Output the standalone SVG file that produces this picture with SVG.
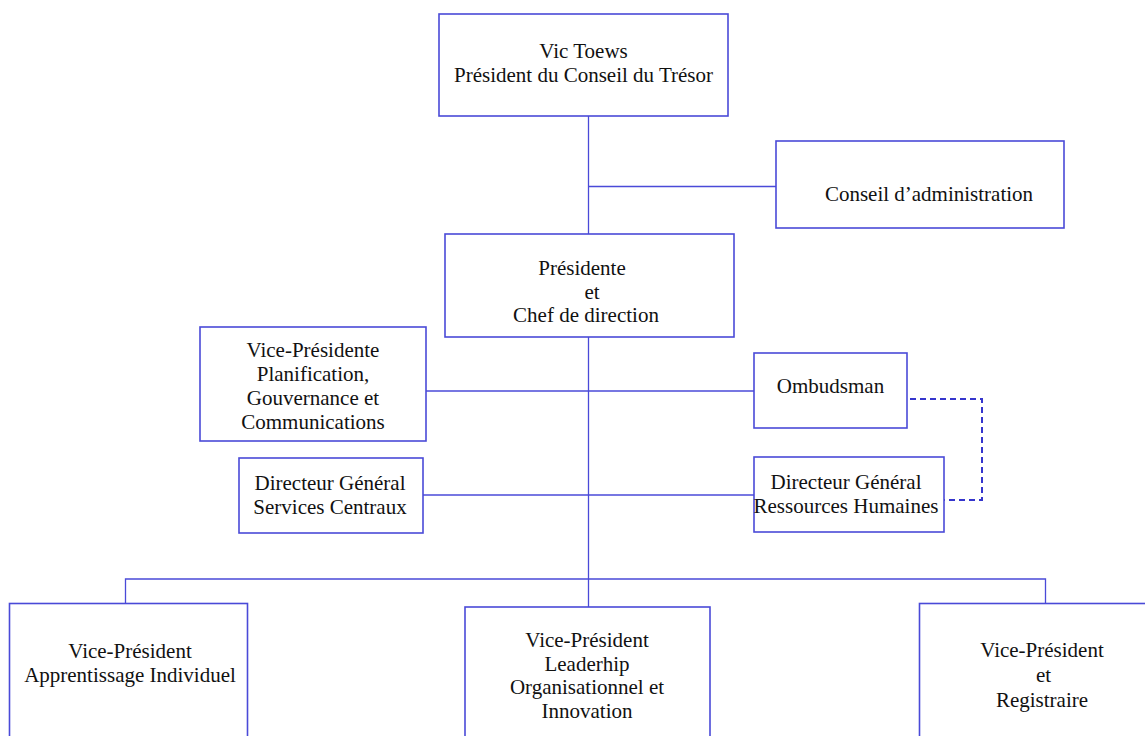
<svg xmlns="http://www.w3.org/2000/svg" width="1145" height="736" viewBox="0 0 1145 736">
<style>
.box{fill:#ffffff;stroke:#4a4ad8;stroke-width:1.6}
.ln{fill:none;stroke:#4a4ad8;stroke-width:1.3}
.dash{fill:none;stroke:#3535cc;stroke-width:2;stroke-dasharray:6 4}
text{font-family:"Liberation Serif","Times New Roman",serif;font-size:21px;fill:#111111;text-anchor:middle}
</style>
<rect width="1145" height="736" fill="#ffffff"/>
<g id="connectors">
<line class="ln" x1="588.5" y1="116" x2="588.5" y2="234"/>
<line class="ln" x1="588.5" y1="186.5" x2="776" y2="186.5"/>
<line class="ln" x1="588.5" y1="337" x2="588.5" y2="607"/>
<line class="ln" x1="426" y1="391" x2="754" y2="391"/>
<line class="ln" x1="423" y1="495" x2="754" y2="495"/>
<polyline class="ln" points="125.5,603 125.5,579 1045.5,579 1045.5,603"/>
<polyline class="dash" points="910,399 982,399 982,500 944,500"/>
</g>
<g id="n-toews">
<rect class="box" x="439" y="14" width="289" height="102"/>
<text x="583.5" y="58">Vic Toews</text>
<text x="583.5" y="82">Président du Conseil du Trésor</text>
</g>
<g id="n-conseil">
<rect class="box" x="776" y="141" width="288" height="87"/>
<text x="929" y="201">Conseil d’administration</text>
</g>
<g id="n-presidente">
<rect class="box" x="445" y="234" width="289" height="103"/>
<text x="582" y="275">Présidente</text>
<text x="592" y="298.5">et</text>
<text x="586" y="322">Chef de direction</text>
</g>
<g id="n-vp-planif">
<rect class="box" x="200" y="327" width="226" height="114"/>
<text x="313" y="357">Vice-Présidente</text>
<text x="313" y="381">Planification,</text>
<text x="313" y="405">Gouvernance et</text>
<text x="313" y="429">Communications</text>
</g>
<g id="n-ombudsman">
<rect class="box" x="754" y="353" width="153" height="75"/>
<text x="830.5" y="393">Ombudsman</text>
</g>
<g id="n-dg-sc">
<rect class="box" x="239" y="458" width="184" height="75"/>
<text x="330" y="490">Directeur Général</text>
<text x="330" y="514">Services Centraux</text>
</g>
<g id="n-dg-rh">
<rect class="box" x="754" y="457" width="190" height="75"/>
<text x="846" y="489">Directeur Général</text>
<text x="846" y="513">Ressources Humaines</text>
</g>
<g id="n-vp-appr">
<rect class="box" x="9.5" y="603.5" width="238" height="150"/>
<text x="130" y="658">Vice-Président</text>
<text x="130" y="682">Apprentissage Individuel</text>
</g>
<g id="n-vp-lead">
<rect class="box" x="465" y="607" width="245" height="150"/>
<text x="587" y="647">Vice-Président</text>
<text x="587" y="670.5">Leaderhip</text>
<text x="587" y="694">Organisationnel et</text>
<text x="587" y="718">Innovation</text>
</g>
<g id="n-vp-reg">
<rect class="box" x="919.5" y="603.5" width="250" height="150"/>
<text x="1042" y="657">Vice-Président</text>
<text x="1043.5" y="682">et</text>
<text x="1042" y="707">Registraire</text>
</g>
</svg>
